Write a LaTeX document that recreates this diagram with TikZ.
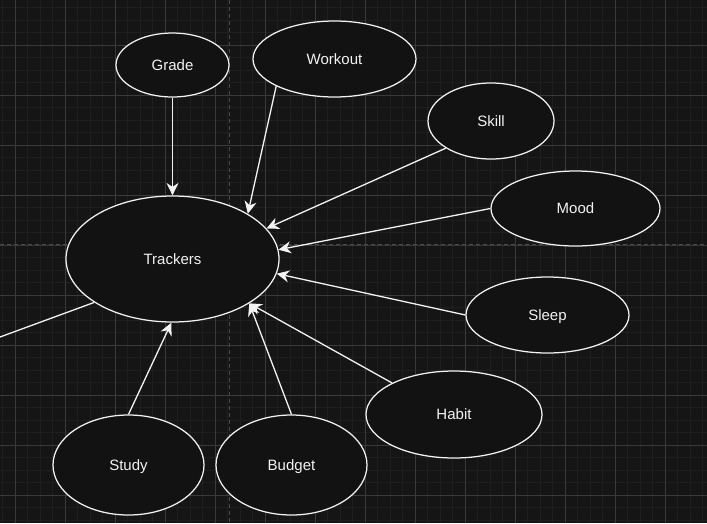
\documentclass[tikz,border=0pt]{standalone}
\usepackage{fontspec}
\setmainfont{Liberation Sans}
\usetikzlibrary{shapes.geometric,arrows.meta}
\definecolor{bgc}{HTML}{151515}
\definecolor{fillc}{HTML}{121212}
\definecolor{minorc}{HTML}{1F1F1F}
\definecolor{majorc}{HTML}{3A3A3A}
\definecolor{axisc}{HTML}{4A4A4A}
\definecolor{inkc}{HTML}{F2F2F2}
\tikzset{
  bubble/.style={ellipse, draw=inkc, line width=1.25pt, fill=fillc, text=inkc,
    inner sep=0pt, text height=13.5pt, text depth=3.1pt,
    font=\fontsize{15}{18}\selectfont},
  link/.style={draw=inkc, line width=1.3pt,
    -{Stealth[length=12.5pt,width=12pt,inset=4pt]}},
  plainlink/.style={draw=inkc, line width=1.3pt},
  minorline/.style={draw=minorc, line width=0.8pt},
  majorline/.style={draw=majorc, line width=1pt},
  axisline/.style={draw=axisc, line width=1pt, dash pattern=on 4pt off 3pt}
}
\begin{document}
\begin{tikzpicture}[x=1pt,y=-1pt]
\useasboundingbox (0,0) rectangle (707,523);
\fill[bgc] (0,0) rectangle (707,523);
% minor grid
\foreach \i in {0,...,56} {
  \pgfmathsetmacro\xx{2.5+12.5*\i}
  \draw[minorline] (\xx,0) -- (\xx,523);
}
\foreach \i in {0,...,41} {
  \pgfmathsetmacro\yy{7.5+12.5*\i}
  \draw[minorline] (0,\yy) -- (707,\yy);
}
% major grid
\foreach \i in {0,...,13} {
  \pgfmathsetmacro\xx{15+50*\i}
  \draw[majorline] (\xx,0) -- (\xx,523);
}
\foreach \i in {0,...,9} {
  \pgfmathsetmacro\yy{45+50*\i}
  \draw[majorline] (0,\yy) -- (707,\yy);
}
% page axes
\draw[axisline] (229,0) -- (229,523);
\draw[axisline] (0,244.5) -- (707,244.5);

% nodes
\node[bubble, minimum width=213pt, minimum height=126pt] (trackers) at (172.5,259) {Trackers};
\node[bubble, minimum width=113pt, minimum height=64pt] (grade) at (172.5,65) {Grade};
\node[bubble, minimum width=163pt, minimum height=76pt] (workout) at (334.5,59) {Workout};
\node[bubble, minimum width=126pt, minimum height=76pt] (skill) at (491,121) {Skill};
\node[bubble, minimum width=169pt, minimum height=75pt] (mood) at (575.5,208.5) {Mood};
\node[bubble, minimum width=163pt, minimum height=76pt] (sleep) at (547.5,315) {Sleep};
\node[bubble, minimum width=176pt, minimum height=87pt] (habit) at (454,414.5) {Habit};
\node[bubble, minimum width=151pt, minimum height=100pt] (budget) at (291.5,465) {Budget};
\node[bubble, minimum width=151pt, minimum height=100pt] (study) at (128.5,465) {Study};
\coordinate (offleft) at (0,337);

% connectors
\draw[link] (grade.south) -- (trackers.north);
\draw[link] (workout.205.2) -- (trackers.31.4);
\draw[link] (skill.211) -- (trackers.18);
\draw[link] (mood.west) -- (trackers.5.9);
\draw[link] (sleep.west) -- (trackers.-8.4);
\draw[link] (habit.153.4) -- (trackers.-30);
\draw[link] (budget.north) -- (trackers.-30);
\draw[link] (study.north) -- (trackers.-91);
\draw[plainlink] (trackers.209.7) -- (offleft);
\end{tikzpicture}
\end{document}
